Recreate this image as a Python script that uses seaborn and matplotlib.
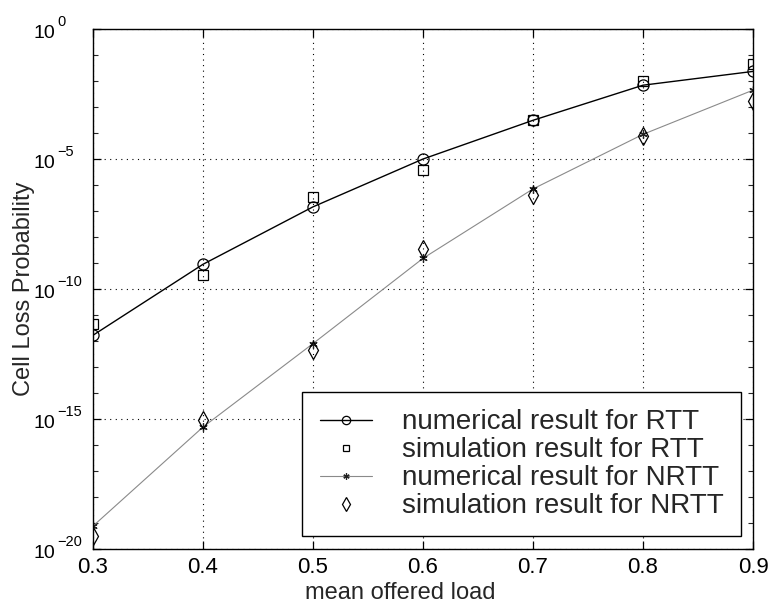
import numpy as np
import pandas as pd
import matplotlib
matplotlib.use("Agg")
import matplotlib.pyplot as plt
from matplotlib.ticker import FixedLocator, NullFormatter
import seaborn as sns

# Mean offered load (x) and cell loss probability exponents (log10 values)
load = [0.3, 0.4, 0.5, 0.6, 0.7, 0.8, 0.9]
rtt_numerical_log = [-11.78, -9.05, -6.84, -5.00, -3.51, -2.16, -1.63]
rtt_simulation_log = [-11.36, -9.45, -6.46, -5.41, -3.49, -2.01, -1.35]
nrtt_numerical_log = [-19.12, -15.31, -12.10, -8.82, -6.15, -4.05, -2.35]
nrtt_simulation_log = [-19.50, -15.05, -12.34, -8.46, -6.37, -4.13, -2.75]

series_labels = [
    "numerical result for RTT",
    "simulation result for RTT",
    "numerical result for NRTT",
    "simulation result for NRTT",
]
major_exponents = [-20, -15, -10, -5, 0]

sns.set_theme(style="white")
plt.rcParams["font.family"] = ["Liberation Sans", "DejaVu Sans"]

df = pd.DataFrame({
    "load": load,
    "rtt_num": np.power(10.0, rtt_numerical_log),
    "rtt_sim": np.power(10.0, rtt_simulation_log),
    "nrtt_num": np.power(10.0, nrtt_numerical_log),
    "nrtt_sim": np.power(10.0, nrtt_simulation_log),
})

fig = plt.figure(figsize=(7.76, 6.05), dpi=100)
ax = fig.add_axes([0.1198, 0.0926, 0.8506, 0.8594])

asterisk = (6, 2, 0)

sns.lineplot(data=df, x="load", y="rtt_num", ax=ax, color="black", lw=1.0,
             marker="o", markersize=8, markerfacecolor="none",
             markeredgecolor="black", markeredgewidth=0.9,
             label=series_labels[0])
sns.lineplot(data=df, x="load", y="rtt_sim", ax=ax, color="black",
             linestyle="none", marker="s", markersize=6.5,
             markerfacecolor="none", markeredgecolor="black",
             markeredgewidth=0.9, label=series_labels[1])
sns.lineplot(data=df, x="load", y="nrtt_num", ax=ax, color="#8a8a8a", lw=0.8,
             marker=asterisk, markersize=6, markeredgecolor="#222222",
             markeredgewidth=0.9, label=series_labels[2])
sns.lineplot(data=df, x="load", y="nrtt_sim", ax=ax, color="black",
             linestyle="none", marker="d", markersize=9,
             markerfacecolor="none", markeredgecolor="black",
             markeredgewidth=0.9, label=series_labels[3])

ax.set_yscale("log")
ax.set_xlim(0.3, 0.9)
ax.set_ylim(1e-20, 1e0)

ax.set_xticks(load)
ax.set_xticklabels([f"{v:.1f}" for v in load])
ax.yaxis.set_major_locator(FixedLocator([10.0 ** e for e in major_exponents]))
ax.yaxis.set_major_formatter(NullFormatter())
minor = [10.0 ** e for e in range(-20, 1) if e % 5 != 0]
ax.yaxis.set_minor_locator(FixedLocator(minor))
ax.yaxis.set_minor_formatter(NullFormatter())

# Power-of-ten labels: base "10" with a large exponent beside it
ytrans = ax.get_yaxis_transform()
for e in major_exponents:
    ax.annotate("10", xy=(0, 10.0 ** e), xycoords=ytrans,
                xytext=(-38, -9), textcoords="offset pixels",
                ha="right", va="baseline", fontsize=14, color="black",
                annotation_clip=False)
    ax.annotate(str(e).replace("-", "\u2212"), xy=(0, 10.0 ** e),
                xycoords=ytrans, xytext=(-36, 3), textcoords="offset pixels",
                ha="left", va="baseline", fontsize=10.5, color="black",
                annotation_clip=False)

ax.tick_params(axis="both", which="major", direction="in", length=6,
               width=0.9, colors="black", labelsize=16, top=True, right=True,
               bottom=True, left=True, pad=6)
ax.tick_params(axis="y", which="minor", direction="in", length=3.5,
               width=0.8, left=True, right=True)

ax.grid(True, which="major", linestyle=(0, (1, 4)), color="black", lw=0.8)
for s in ax.spines.values():
    s.set_color("black")
    s.set_linewidth(1.0)

ax.set_xlabel("mean offered load", fontsize=17)
ax.set_ylabel("Cell Loss Probability", fontsize=17)
ax.xaxis.set_label_coords(0.465, -0.0635)
ax.yaxis.set_label_coords(-0.088, 0.5)

leg = ax.legend(loc="lower right", fontsize=20, frameon=True, fancybox=False,
                edgecolor="black", framealpha=1, borderpad=0.62,
                handlelength=1.9, handletextpad=1.05, labelspacing=0.07,
                borderaxespad=0.45)
leg.get_frame().set_linewidth(1.0)
for h in leg.legend_handles:
    h.set_markersize(h.get_markersize() * 0.75)

fig.savefig("out.png", dpi=100)
